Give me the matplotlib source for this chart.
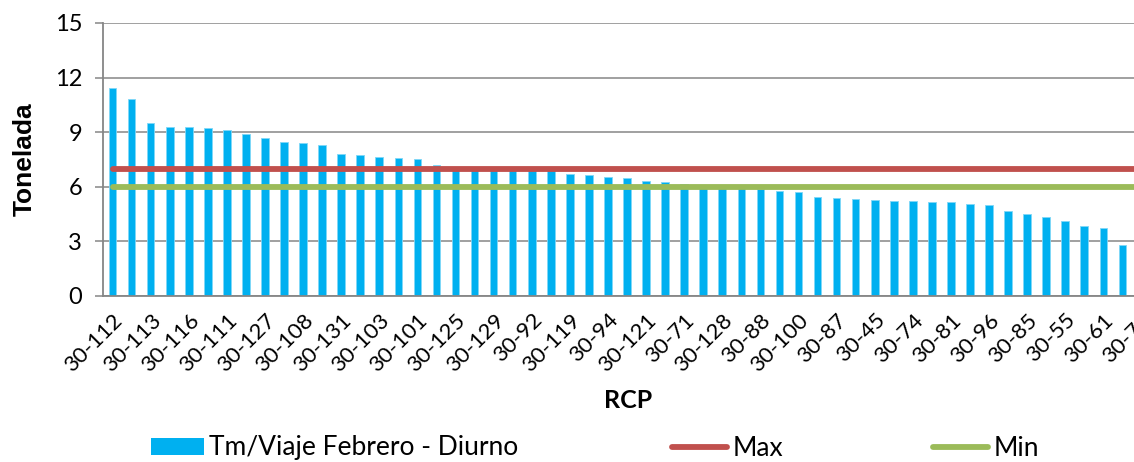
import numpy as np
import matplotlib.pyplot as plt
from matplotlib.patches import Patch
from matplotlib.lines import Line2D

plt.rcParams['font.family'] = ['Lato', 'DejaVu Sans']

# Tonnes per trip, sorted high to low (last bar is cut off in the original)
valores = [11.45, 10.8, 9.49, 9.29, 9.27, 9.21, 9.14, 8.92, 8.66, 8.46,
           8.41, 8.32, 7.79, 7.73, 7.62, 7.56, 7.51, 7.18, 7.1, 7.02,
           6.98, 6.96, 6.94, 6.92, 6.70, 6.63, 6.52, 6.50, 6.32, 6.25,
           6.15, 6.05, 6.0, 5.95, 5.88, 5.79, 5.70, 5.44, 5.38, 5.33,
           5.26, 5.24, 5.22, 5.18, 5.16, 5.05, 4.98, 4.67, 4.49, 4.32,
           4.14, 3.83, 3.75, 2.78, 2.6]

# only every second RCP gets a label in the chart
etiquetas = ["30-112", "30-113", "30-116", "30-111", "30-127", "30-108",
             "30-131", "30-103", "30-101", "30-125", "30-129", "30-92",
             "30-119", "30-94", "30-121", "30-71", "30-128", "30-88",
             "30-100", "30-87", "30-45", "30-74", "30-81", "30-96",
             "30-85", "30-55", "30-61", "30-72"]

val_max = 7
val_min = 6

azul = "#00B0F0"
rojo = "#C0504D"
verde = "#9BBB59"
gris = "#868686"

fig = plt.figure(figsize=(11.34, 4.62), dpi=100)
ax = fig.add_axes([103 / 1134, 166 / 462, 1048 / 1134, 273 / 462])

x = np.arange(len(valores))
ax.bar(x, valores, width=0.4, color=azul, edgecolor="#7FD7F7", linewidth=0.6, zorder=2)
ax.plot([x[0], x[-1]], [val_max] * 2, color=rojo, linewidth=4.2,
        solid_capstyle="round", zorder=3)
ax.plot([x[0], x[-1]], [val_min] * 2, color=verde, linewidth=4.2,
        solid_capstyle="round", zorder=3)

ax.set_xlim(-0.5, len(valores) - 0.5)
ax.set_ylim(0, 15)
ax.set_yticks(np.arange(0, 16, 3))
ax.grid(axis="y", color=gris, linewidth=1.1, zorder=0)
ax.set_axisbelow(True)

ax.set_xticks(x[::2])
ax.set_xticklabels(etiquetas, rotation=45, ha="right", va="top",
                   rotation_mode="anchor", fontsize=16)
ax.tick_params(axis="x", length=0, pad=10)
ax.tick_params(axis="y", length=6, width=1.1, color=gris, labelsize=17, pad=9)

for s in ["top", "right"]:
    ax.spines[s].set_visible(False)
for s in ["left", "bottom"]:
    ax.spines[s].set_color(gris)
    ax.spines[s].set_linewidth(1.3)

ax.set_ylabel("Tonelada", fontsize=19, fontweight="bold",
              family=["Liberation Sans", "DejaVu Sans"])
ax.yaxis.set_label_coords(-0.063, 0.5)
fig.text(628 / 1134, 1 - 400 / 462, "RCP", fontsize=18, fontweight="bold",
         ha="center", va="center")

# legend entries are spread unevenly, so one small legend per entry
entradas = [
    (Patch(facecolor=azul), "Tm/Viaje Febrero - Diurno", 151, 2.0),
    (Line2D([], [], color=rojo, linewidth=4.2, solid_capstyle="round"), "Max", 672, 2.1),
    (Line2D([], [], color=verde, linewidth=4.2, solid_capstyle="round"), "Min", 933, 2.1),
]
for h, txt, px, hl in entradas:
    fig.legend([h], [txt], loc="center left", bbox_to_anchor=(px / 1134, 1 - 448 / 462),
               frameon=False, fontsize=19, borderpad=0, borderaxespad=0,
               handlelength=hl, handleheight=0.6, handletextpad=0.2)

fig.savefig("out.png", dpi=100)
